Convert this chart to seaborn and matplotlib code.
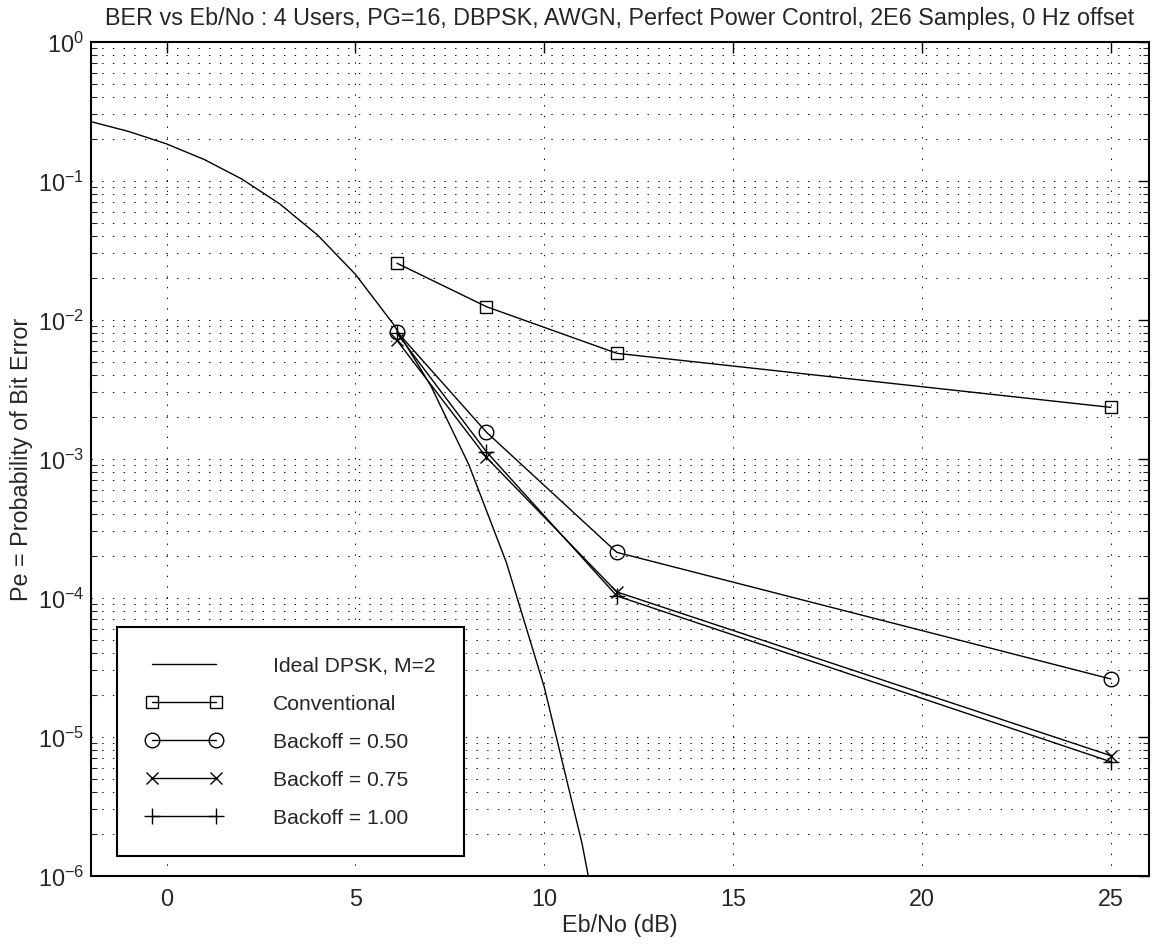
import numpy as np
import pandas as pd
import matplotlib
matplotlib.use("Agg")
import matplotlib.pyplot as plt
import seaborn as sns
from matplotlib.ticker import FixedLocator, NullFormatter, LogFormatterMathtext

# ---- data ----
ideal_x = [-2, -1, 0, 1, 2, 3, 4, 5, 6, 7, 8, 9, 10, 11, 12]
ideal_pe = [0.266, 0.226, 0.184, 0.142, 0.1025, 0.068, 0.0406, 0.0212,
            0.00933, 0.00333, 0.000909, 0.000178, 2.27e-5, 1.70e-6, 6.5e-8]

sim_x = [6.1, 8.47, 11.92, 25.0]
conventional = [0.0255, 0.0124, 0.00573, 0.00234]
backoff_050 = [0.0082, 0.00155, 0.000212, 2.6e-5]
backoff_075 = [0.0071, 0.00102, 0.000110, 7.3e-6]
backoff_100 = [0.0080, 0.00112, 0.000103, 6.6e-6]

labels = ["Ideal DPSK, M=2", "Conventional", "Backoff = 0.50",
          "Backoff = 0.75", "Backoff = 1.00"]
title = "BER vs Eb/No : 4 Users, PG=16, DBPSK, AWGN, Perfect Power Control, 2E6 Samples, 0 Hz offset"
x_ticks = [0, 5, 10, 15, 20, 25]
y_decades = [-6, -5, -4, -3, -2, -1, 0]

# ---- style ----
sns.set_style("white")
plt.rcParams["font.family"] = ["Liberation Sans", "DejaVu Sans"]
plt.rcParams["mathtext.fontset"] = "custom"
plt.rcParams["mathtext.rm"] = "Liberation Sans"
plt.rcParams["mathtext.it"] = "Liberation Sans:italic"
plt.rcParams["mathtext.bf"] = "Liberation Sans:bold"
plt.rcParams["lines.scale_dashes"] = False

FS = 16.8
LFS = 15.2

fig = plt.figure(figsize=(11.55, 9.45), dpi=100)
ax = fig.add_axes([0.0788, 0.0723, 0.9157, 0.8825])

ideal_df = pd.DataFrame({"x": ideal_x, "pe": ideal_pe})
sns.lineplot(data=ideal_df, x="x", y="pe", ax=ax, color="black", lw=1.0,
             sort=False, estimator=None, label=labels[0])

series = [
    (conventional, "s", 8.5, labels[1]),
    (backoff_050, "o", 10.5, labels[2]),
    (backoff_075, "x", 8.5, labels[3]),
    (backoff_100, "+", 11, labels[4]),
]
for vals, mk, ms, lab in series:
    df = pd.DataFrame({"x": sim_x, "pe": vals})
    sns.lineplot(data=df, x="x", y="pe", ax=ax, color="black", lw=1.0,
                 marker=mk, markersize=ms, markerfacecolor="none",
                 markeredgecolor="black", markeredgewidth=1.0,
                 sort=False, estimator=None, label=lab)

ax.set_yscale("log")
ax.set_xlim(-2, 26)
ax.set_ylim(1e-6, 1)

major_y = [10.0 ** d for d in y_decades]
minor_y = [m * 10.0 ** d for d in y_decades[:-1] for m in range(2, 10)]
ax.xaxis.set_major_locator(FixedLocator(x_ticks))
ax.yaxis.set_major_locator(FixedLocator(major_y))
ax.yaxis.set_minor_locator(FixedLocator(minor_y))
ax.yaxis.set_major_formatter(LogFormatterMathtext())
ax.yaxis.set_minor_formatter(NullFormatter())

dots = (0, (1, 6.7))
ax.grid(True, which="major", axis="both", color="black", lw=0.7, linestyle=dots)
ax.grid(True, which="minor", axis="y", color="black", lw=0.7, linestyle=dots)

ax.tick_params(axis="both", which="major", direction="in", length=8, width=1.0,
               top=True, right=True, labelsize=FS, color="black")
ax.tick_params(axis="x", which="major", pad=8)
ax.tick_params(axis="y", which="major", pad=5)
ax.tick_params(axis="y", which="minor", direction="in", length=4, width=0.8,
               left=True, right=True)
for sp in ax.spines.values():
    sp.set_linewidth(1.5)
    sp.set_color("black")

ax.set_title(title, fontsize=FS, pad=13)
ax.set_xlabel("Eb/No (dB)", fontsize=FS, labelpad=2)
ax.set_ylabel("Pe = Probability of Bit Error", fontsize=FS, labelpad=3)

leg = ax.legend(loc="lower left", bbox_to_anchor=(0.0249, 0.024), numpoints=2,
                fontsize=LFS, handlelength=3.6, handletextpad=2.4,
                borderpad=1.36, labelspacing=0.9, fancybox=False,
                framealpha=1, edgecolor="black", borderaxespad=0)
leg.get_frame().set_linewidth(1.5)

fig.savefig("out.png", dpi=100)
